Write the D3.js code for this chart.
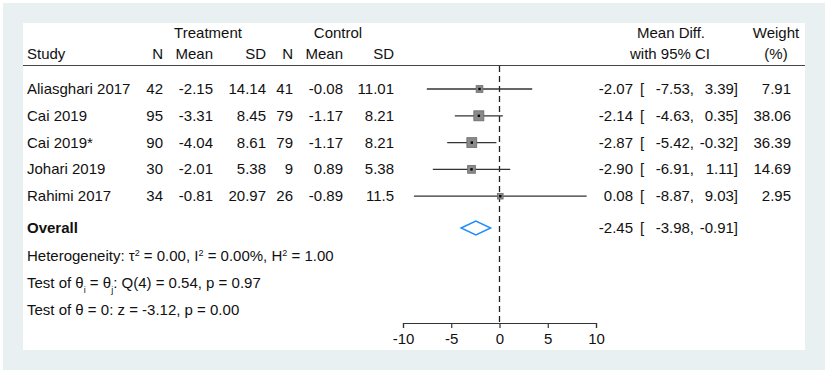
<!DOCTYPE html>
<html>
<head>
<meta charset="utf-8">
<title>Forest plot</title>
<script src="https://d3js.org/d3.v7.min.js"></script>
<style>
  body { margin: 0; background: #fff; }
  svg text { font-family: "Liberation Sans", Arial, sans-serif; font-size: 15px; fill: #111; }
</style>
</head>
<body>
<svg width="829" height="374"></svg>
<script>
// data
const studies = ["Aliasghari 2017", "Cai 2019", "Cai 2019*", "Johari 2019", "Rahimi 2017"];
const trtN = [42, 95, 90, 30, 34];
const trtMean = ["-2.15", "-3.31", "-4.04", "-2.01", "-0.81"];
const trtSD = ["14.14", "8.45", "8.61", "5.38", "20.97"];
const ctlN = [41, 79, 79, 9, 26];
const ctlMean = ["-0.08", "-1.17", "-1.17", "0.89", "-0.89"];
const ctlSD = ["11.01", "8.21", "8.21", "5.38", "11.5"];
const effect = [-2.07, -2.14, -2.87, -2.90, 0.08];
const lower = [-7.53, -4.63, -5.42, -6.91, -8.87];
const upper = [3.39, 0.35, -0.32, 1.11, 9.03];
const weight = [7.91, 38.06, 36.39, 14.69, 2.95];
const overall = { effect: -2.45, lower: -3.98, upper: -0.91 };
const axisTicks = [-10, -5, 0, 5, 10];

const svg = d3.select("svg");
// plain hyphen for negatives, like the original
const fmt = d3.formatLocale({ decimal: ".", thousands: ",", grouping: [3], currency: ["", ""], minus: "-" }).format(".2f");

// panels
svg.append("rect").attr("x", 3).attr("y", 3).attr("width", 822).attr("height", 367).attr("fill", "#e8f0f2");
svg.append("rect").attr("x", 23).attr("y", 23).attr("width", 782).attr("height", 327).attr("fill", "#fff");

// scales
const x = d3.scaleLinear().domain([-10, 10]).range([403, 596]);
const rowY = d3.scaleLinear().domain([0, 1]).range([89, 115.8]);
const side = d3.scaleSqrt().domain([0, 38.06]).range([4, 10]);

// header
const header = svg.append("g");
header.append("text").attr("x", 208).attr("y", 38).attr("text-anchor", "middle").text("Treatment");
header.append("text").attr("x", 338).attr("y", 38).attr("text-anchor", "middle").text("Control");
header.append("text").attr("x", 27).attr("y", 59).text("Study");
const hcols = [[163, "N"], [213, "Mean"], [266, "SD"], [293, "N"], [343, "Mean"], [394, "SD"]];
hcols.forEach(([cx, t]) => header.append("text").attr("x", cx).attr("y", 59).attr("text-anchor", "end").text(t));
header.append("text").attr("x", 671).attr("y", 38).attr("text-anchor", "middle").text("Mean Diff.");
header.append("text").attr("x", 670).attr("y", 59).attr("text-anchor", "middle").text("with 95% CI");
header.append("text").attr("x", 776).attr("y", 38).attr("text-anchor", "middle").text("Weight");
header.append("text").attr("x", 776).attr("y", 59).attr("text-anchor", "middle").text("(%)");
svg.append("line").attr("x1", 23).attr("x2", 805).attr("y1", 65.5).attr("y2", 65.5)
  .attr("stroke", "#444").attr("stroke-width", 1.2);

// null line
svg.append("line").attr("x1", x(0)).attr("x2", x(0)).attr("y1", 66).attr("y2", 323)
  .attr("stroke", "#222").attr("stroke-width", 1.3).attr("stroke-dasharray", "6,4");

// study rows
const rows = svg.append("g").selectAll("g").data(studies).join("g")
  .attr("transform", (d, i) => `translate(0,${rowY(i)})`);
rows.append("text").attr("x", 27).attr("y", 5).text(d => d);
const cells = [[163, trtN], [213, trtMean], [266, trtSD], [293, ctlN], [343, ctlMean], [394, ctlSD]];
cells.forEach(([cx, arr]) => rows.append("text").attr("x", cx).attr("y", 5).attr("text-anchor", "end").text((d, i) => arr[i]));
rows.append("text").attr("x", 633).attr("y", 5).attr("text-anchor", "end").text((d, i) => fmt(effect[i]));
rows.append("text").attr("x", 640).attr("y", 5).text("[");
rows.append("text").attr("x", 694).attr("y", 5).attr("text-anchor", "end").text((d, i) => fmt(lower[i]) + ",");
rows.append("text").attr("x", 738).attr("y", 5).attr("text-anchor", "end").text((d, i) => fmt(upper[i]) + "]");
rows.append("text").attr("x", 791).attr("y", 5).attr("text-anchor", "end").text((d, i) => fmt(weight[i]));

rows.append("line").attr("x1", (d, i) => x(lower[i])).attr("x2", (d, i) => x(upper[i]))
  .attr("stroke", "#333").attr("stroke-width", 1.3);
rows.append("rect")
  .attr("x", (d, i) => x(effect[i]) - side(weight[i]) / 2)
  .attr("y", (d, i) => -side(weight[i]) / 2)
  .attr("width", (d, i) => side(weight[i]))
  .attr("height", (d, i) => side(weight[i]))
  .attr("fill", "#8a8a8a").attr("stroke", "#6a6a6a").attr("stroke-width", 0.8);
rows.append("rect").attr("x", (d, i) => x(effect[i]) - 1.2).attr("y", -1.2)
  .attr("width", 2.4).attr("height", 2.4).attr("fill", "#000");

// overall
const oy = 228;
svg.append("text").attr("x", 27).attr("y", oy + 5).attr("font-weight", "bold").text("Overall");
svg.append("path")
  .attr("d", `M${x(overall.lower)},${oy} L${x(overall.effect)},${oy - 7} L${x(overall.upper)},${oy} L${x(overall.effect)},${oy + 7} Z`)
  .attr("fill", "none").attr("stroke", "#1e8cff").attr("stroke-width", 1.4);
const ot = [[633, fmt(overall.effect)], [640, "["], [694, fmt(overall.lower) + ","], [738, fmt(overall.upper) + "]"]];
ot.forEach(([cx, t], k) => svg.append("text").attr("x", cx).attr("y", oy + 5)
  .attr("text-anchor", k === 1 ? "start" : "end").text(t));

// statistics
const het = svg.append("text").attr("x", 27).attr("y", 261);
het.append("tspan").text("Heterogeneity: \u03c4");
het.append("tspan").attr("baseline-shift", "super").attr("font-size", "9px").text("2");
het.append("tspan").text(" = 0.00, I");
het.append("tspan").attr("baseline-shift", "super").attr("font-size", "9px").text("2");
het.append("tspan").text(" = 0.00%, H");
het.append("tspan").attr("baseline-shift", "super").attr("font-size", "9px").text("2");
het.append("tspan").text(" = 1.00");

const q = svg.append("text").attr("x", 27).attr("y", 288);
q.append("tspan").text("Test of \u03b8");
q.append("tspan").attr("baseline-shift", "sub").attr("font-size", "9px").text("i");
q.append("tspan").text(" = \u03b8");
q.append("tspan").attr("baseline-shift", "sub").attr("font-size", "9px").text("j");
q.append("tspan").text(": Q(4) = 0.54, p = 0.97");

svg.append("text").attr("x", 27).attr("y", 315).text("Test of \u03b8 = 0: z = -3.12, p = 0.00");

// axis
const ax = svg.append("g").attr("transform", "translate(0,323)")
  .call(d3.axisBottom(x).tickValues(axisTicks).tickFormat(d => String(d))
    .tickSize(5).tickSizeOuter(5).tickPadding(5));
ax.selectAll("path, line").attr("stroke", "#333").attr("stroke-width", 1.2);
ax.selectAll("text").style("font-size", "15px").attr("fill", "#111");
</script>
</body>
</html>
